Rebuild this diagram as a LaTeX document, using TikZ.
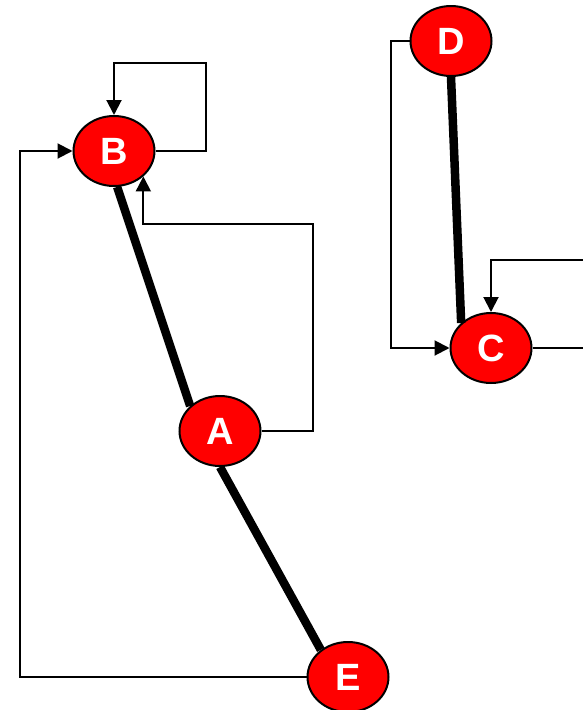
\documentclass[tikz,border=0pt]{standalone}
\usepackage{fontspec}
\setmainfont{Liberation Sans}
\usepackage{xcolor}
\usetikzlibrary{arrows.meta,calc,positioning,shapes.geometric}
\definecolor{nodered}{HTML}{FF0000}

\begin{document}
\begin{tikzpicture}[x=1pt,y=-1pt,>={Triangle[length=15pt,width=15pt]},
    state/.style={ellipse,draw=black,line width=2pt,fill=nodered,
      minimum width=81pt,minimum height=70pt,inner sep=0pt,
      text=white,font=\bfseries\fontsize{38}{38}\selectfont},
    link/.style={->,line width=2pt},
    bond/.style={line width=8.5pt}]
    \useasboundingbox (0,0) rectangle (583,710);
    \clip (0,0) rectangle (583,710);
    \node[state] (b) at (114,151) {B};
    \node[state] (d) at (451,41) {D};
    \node[state] (c) at (491,348) {C};
    \node[state] (a) at (220,431) {A};
    \node[state] (e) at (348,677) {E};
    % thick bonds
    \draw[bond] (b.-85) -- (a.140);
    \draw[bond] (a.south) -- (e.135);
    \draw[bond] (d.south) -- (c.140);
    % feedback arrows
    \draw[link] (b.east) -| (206,63) -| (b.north);
    \draw[link] (a.east) -| (313,224) -| (b.south east);
    \draw[link] (e.west) -| (20,151) -- (b.west);
    \draw[link] (d.west) -| (391,348) -- (c.west);
    \draw[link] (c.east) -| (600,260) -| (c.north);
  \end{tikzpicture}
\end{document}
